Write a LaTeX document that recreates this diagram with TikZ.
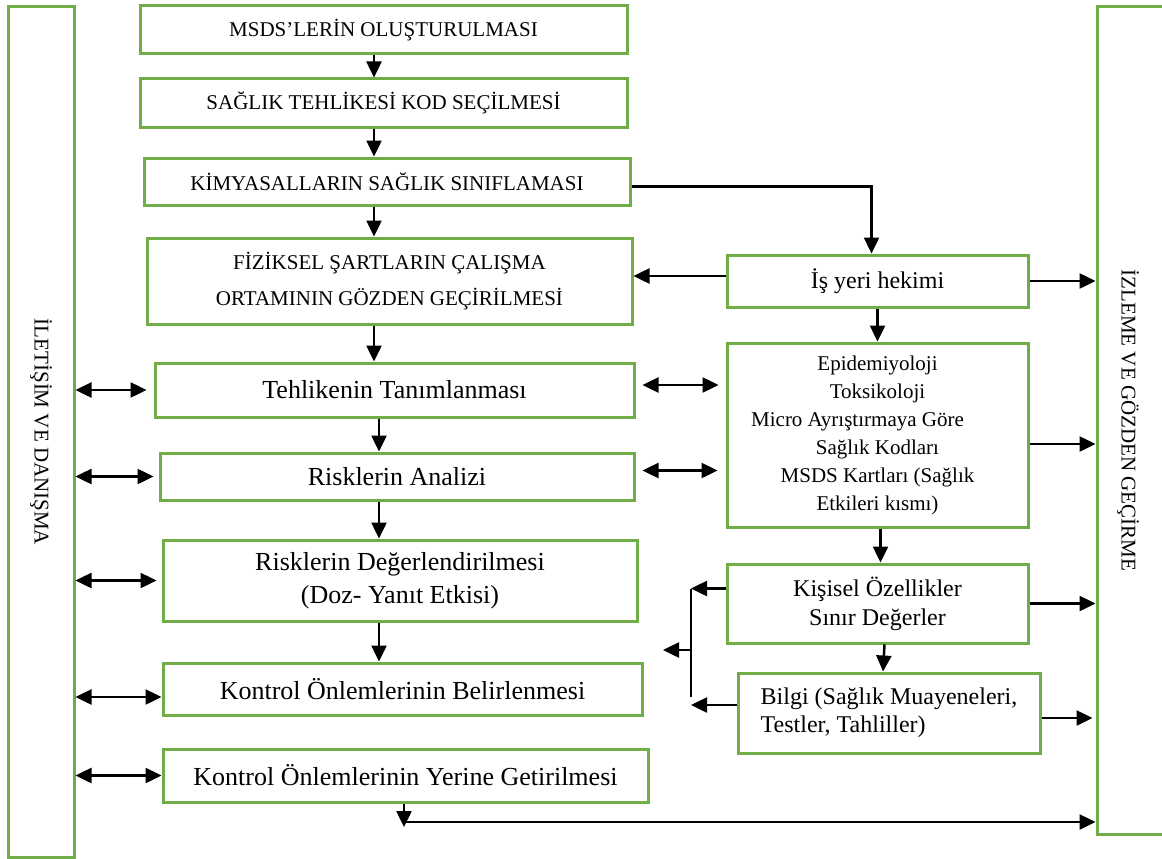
\documentclass[tikz,border=0pt]{standalone}
\usepackage{fontspec}
\setmainfont{Liberation Serif}
\usetikzlibrary{arrows.meta,positioning}
\definecolor{kutuYesil}{HTML}{70AD47}
\newcommand{\buyukYazi}{\fontsize{21}{36}\selectfont}
\newcommand{\ortaYazi}{\fontsize{24}{29}\selectfont}
\newcommand{\genisYazi}{\fontsize{26}{33}\selectfont}
\newcommand{\epiYazi}{\fontsize{21}{28}\selectfont}

\begin{document}
\begin{tikzpicture}[
    x=1pt, y=-1pt,
    kutu/.style={draw=kutuYesil, line width=3pt, align=center, inner sep=0pt},
    line/.style={-{Triangle[length=16pt,width=15pt]}, line width=2.5pt},
    cift/.style={{Triangle[length=16pt,width=15pt]}-{Triangle[length=16pt,width=15pt]}, line width=2.5pt},
    duz/.style={line width=2pt}
]
\useasboundingbox (0,0) rectangle (1162,859);
% side boxes
\node[kutu, minimum width=66pt, minimum height=850pt] (iletisim) at (41,432) {};
\node[rotate=-90, font=\buyukYazi] (iletisimYazi) at (iletisim.center) {İLETİŞİM VE DANIŞMA};
\node[kutu, minimum width=80pt, minimum height=827pt] (izleme) at (1137,420.5) {};
\node[rotate=-90, font=\buyukYazi] (izlemeYazi) at ([xshift=-9pt]izleme.center) {İZLEME VE GÖZDEN GEÇİRME};
% main column
\node[kutu, minimum width=487pt, minimum height=48pt, font=\buyukYazi] (msds) at (383.5,30) {MSDS’LERİN OLUŞTURULMASI};
\node[kutu, minimum width=487pt, minimum height=48pt, font=\buyukYazi] (kod) at (383.5,103) {SAĞLIK TEHLİKESİ KOD SEÇİLMESİ};
\node[kutu, minimum width=486pt, minimum height=47pt, font=\buyukYazi] (sinif) at (387,181.5) {KİMYASALLARIN SAĞLIK SINIFLAMASI};
\node[kutu, minimum width=485pt, minimum height=86pt, font=\buyukYazi] (fiziksel) at (389.5,281) {FİZİKSEL ŞARTLARIN ÇALIŞMA\\ORTAMININ GÖZDEN GEÇİRİLMESİ};
\node[kutu, minimum width=479pt, minimum height=54pt, font=\genisYazi] (tehlike) at (394.5,390) {Tehlikenin Tanımlanması};
\node[kutu, minimum width=474pt, minimum height=47pt, font=\genisYazi] (analiz) at (397,476.5) {Risklerin Analizi};
\node[kutu, minimum width=474pt, minimum height=81pt, font=\genisYazi] (degerlendirme) at (400,580.5) {Risklerin Değerlendirilmesi\\(Doz- Yanıt Etkisi)};
\node[kutu, minimum width=479pt, minimum height=52pt, font=\genisYazi] (belirleme) at (402.5,689) {Kontrol Önlemlerinin Belirlenmesi};
\node[kutu, minimum width=485pt, minimum height=53pt, font=\genisYazi] (uygulama) at (405.5,775.5) {Kontrol Önlemlerinin Yerine Getirilmesi};
% right column
\node[kutu, minimum width=301pt, minimum height=52pt, font=\ortaYazi] (hekim) at (877.5,281) {İş yeri hekimi};
\node[kutu, minimum width=301pt, minimum height=184pt, font=\epiYazi] (epi) at (877.5,435) {Epidemiyoloji\\Toksikoloji\\Micro Ayrıştırmaya Göre\hspace*{40pt}\mbox{}\\Sağlık Kodları\\MSDS Kartları (Sağlık\\Etkileri kısmı)};
\node[kutu, minimum width=301pt, minimum height=79pt, font=\ortaYazi] (kisisel) at (877.5,603.5) {Kişisel Özellikler\\Sınır Değerler};
\node[kutu, minimum width=302pt, minimum height=80pt, font=\fontsize{24}{28}\selectfont, align=left] (bilgi) at (889,713) {Bilgi (Sağlık Muayeneleri,\\Testler, Tahliller)};
% helper coordinates
\coordinate (solKol) at (374,0);
\coordinate (sagKol) at (379,0);
\coordinate (kol) at (691,650);
\coordinate (alt) at (404,822);
% main flow
\draw[line] (msds.south -| solKol) -- (kod.north -| solKol);
\draw[line] (kod.south -| solKol) -- (sinif.north -| solKol);
\draw[line] (sinif.south -| solKol) -- (fiziksel.north -| solKol);
\draw[line] (fiziksel.south -| solKol) -- (tehlike.north -| solKol);
\draw[line] (tehlike.south -| sagKol) -- (analiz.north -| sagKol);
\draw[line] (analiz.south -| sagKol) -- (degerlendirme.north -| sagKol);
\draw[line] (degerlendirme.south -| sagKol) -- (belirleme.north -| sagKol);
\draw[line] (uygulama.south -| alt) -- ([yshift=-5pt]alt);
\draw[line] (alt) -- (alt -| izleme.west);
% communication
\draw[cift] (tehlike.west -| iletisim.east) -- ([xshift=-7pt]tehlike.west);
\draw[cift] (analiz.west -| iletisim.east) -- ([xshift=-5pt]analiz.west);
\draw[cift] (degerlendirme.west -| iletisim.east) -- ([xshift=-5pt]degerlendirme.west);
\draw[cift] ([yshift=-8pt]belirleme.west -| iletisim.east) -- ([yshift=-8pt]belirleme.west);
\draw[cift] (uygulama.west -| iletisim.east) -- (uygulama.west);
% right side
\draw[line] ([yshift=-5pt]sinif.east) -| ([xshift=-6pt]hekim.north);
\draw[line] ([yshift=5pt]hekim.west) -- ([yshift=5pt]hekim.west -| fiziksel.east);
\draw[line] (hekim.east) -- (hekim.east -| izleme.west);
\draw[line] (hekim.south) -- (epi.north);
\draw[cift] ([xshift=7pt,yshift=5pt]tehlike.east) -- ([xshift=-7pt,yshift=5pt]tehlike.east -| epi.west);
\draw[cift] ([xshift=7pt,yshift=6pt]analiz.east) -- ([xshift=-8pt,yshift=6pt]analiz.east -| epi.west);
\draw[line] ([yshift=-9pt]epi.east) -- ([yshift=-9pt]epi.east -| izleme.west);
\draw[line] ([xshift=3pt]epi.south) -- ([xshift=3pt]kisisel.north);
\draw[line] (kisisel.east) -- (kisisel.east -| izleme.west);
\draw[line] ([xshift=7pt]kisisel.south) -- ([xshift=-6pt]bilgi.north);
\draw[line] ([yshift=-5pt]bilgi.east) -- ([xshift=-3pt,yshift=-5pt]bilgi.east -| izleme.west);
\draw[line] ([yshift=15pt]kisisel.west) -- ([yshift=15pt]kisisel.west -| kol);
\draw[duz] ([yshift=15pt]kisisel.west -| kol) -- ([yshift=16pt]bilgi.west -| kol);
\draw[line] (kol) -- ++(-28,0);
\draw[line] ([yshift=8pt]bilgi.west) -- ([yshift=8pt]bilgi.west -| kol);
\end{tikzpicture}
\end{document}
